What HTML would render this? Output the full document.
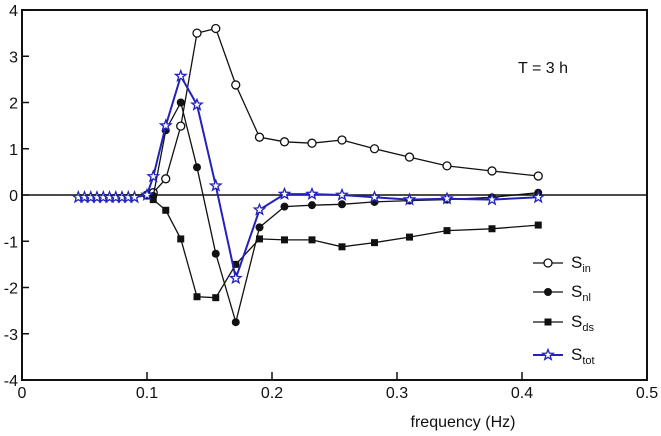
<!DOCTYPE html>
<html><head><meta charset="utf-8"><style>
html,body{margin:0;padding:0;background:#fff;}
svg{display:block;font-family:"Liberation Sans",Arial,sans-serif;}
</style></head><body>
<svg id="chart" width="661" height="436" viewBox="0 0 661 436"></svg>
<script>
const freqs=[0.045,0.05,0.055,0.06,0.065,0.07,0.075,0.08,0.085,0.09,0.1,0.105,0.115,0.127,0.14,0.155,0.171,0.19,0.21,0.232,0.256,0.282,0.31,0.34,0.376,0.413];
const sIn=[0,0,0,0,0,0,0,0,0,0,0,0.05,0.35,1.49,3.5,3.6,2.38,1.25,1.15,1.12,1.19,1.0,0.82,0.63,0.52,0.41];
const sNl=[0,0,0,0,0,0,0,0,0,0,0,-0.02,1.4,2.0,0.6,-1.27,-2.75,-0.7,-0.25,-0.22,-0.2,-0.15,-0.12,-0.1,-0.05,0.05];
const sDs=[0,0,0,0,0,0,0,0,0,0,0,-0.1,-0.33,-0.95,-2.2,-2.22,-1.5,-0.95,-0.97,-0.97,-1.12,-1.03,-0.91,-0.77,-0.73,-0.65];
const sTot=[-0.05,-0.05,-0.05,-0.05,-0.05,-0.05,-0.05,-0.05,-0.05,-0.05,0.0,0.4,1.5,2.57,1.95,0.2,-1.8,-0.32,0.02,0.02,0.0,-0.05,-0.1,-0.08,-0.1,-0.05];
const xTicks=[0,0.1,0.2,0.3,0.4,0.5];
const xTickLabels=["0","0.1","0.2","0.3","0.4","0.5"];
const yTicks=[4,3,2,1,0,-1,-2,-3,-4];
const yTickLabels=["4","3","2","1","0","-1","-2","-3","-4"];

const NS="http://www.w3.org/2000/svg";
const svg=document.getElementById('chart');
const X0=22,X1=647,Y0=380,Y1=10;
const xs=v=>X0+(v-0)/(0.5)*(X1-X0);
const ys=v=>Y0-(v+4)/8*(Y0-Y1);
function mk(tag,attrs,parent){const e=document.createElementNS(NS,tag);for(const k in attrs)e.setAttribute(k,attrs[k]);(parent||svg).appendChild(e);return e;}

const frame=mk('rect',{x:X0,y:Y1,width:X1-X0,height:Y0-Y1,fill:'none',stroke:'#111','stroke-width':2});


const zl=mk('line',{x1:X0,x2:X1,y1:ys(0),y2:ys(0),stroke:'#111','stroke-width':1.6});



xTicks.forEach((t,i)=>{
  const x=xs(t);
  const tk=mk('line',{x1:x,x2:x,y1:Y0,y2:Y0-8,stroke:'#111','stroke-width':1.5});
  
  
  const tx=mk('text',{x:x,y:Y0+18,'font-size':16,'text-anchor':'middle',fill:'#111'});
  tx.textContent=xTickLabels[i];
  
  
});
yTicks.forEach((t,i)=>{
  const y=ys(t);
  const tk=mk('line',{x1:X0,x2:X0+7,y1:y,y2:y,stroke:'#111','stroke-width':1.5});
  
  
  const tx=mk('text',{x:X0-4,y:y+6,'font-size':16,'text-anchor':'end',fill:'#111'});
  tx.textContent=yTickLabels[i];
  
  
});
const xt=mk('text',{x:463,y:427,'font-size':16,'text-anchor':'middle',fill:'#111'});
xt.textContent='frequency (Hz)';


const ann=mk('text',{x:543,y:73,'font-size':16,'text-anchor':'middle',fill:'#111'});
ann.textContent='T = 3 h';



function marker(kind,x,y,color,g){
  if(kind==='open') return mk('circle',{cx:x,cy:y,r:4,fill:'#fff',stroke:color,'stroke-width':1.3},g);
  if(kind==='dot') return mk('circle',{cx:x,cy:y,r:4,fill:color},g);
  if(kind==='sq') return mk('rect',{x:x-3.5,y:y-3.5,width:7,height:7,fill:color},g);
  let p=[];for(let k=0;k<10;k++){const r=k%2?2.3:5.5;const a=-Math.PI/2+k*Math.PI/5;p.push((x+r*Math.cos(a)).toFixed(1)+','+(y+r*Math.sin(a)).toFixed(1));}
  return mk('polygon',{points:p.join(' '),fill:'#fff',stroke:color,'stroke-width':1.3},g);
}
const series=[
 {name:'series-s-in',vals:sIn,kind:'open',color:'#111',start:10},
 {name:'series-s-nl',vals:sNl,kind:'dot',color:'#111',start:10},
 {name:'series-s-ds',vals:sDs,kind:'sq',color:'#111',start:10},
 {name:'series-s-tot',vals:sTot,kind:'star',color:'#2222bb',start:0}
];
series.forEach(s=>{
  const g=mk('g',{});
  
  
  const pts=freqs.map((f,i)=>xs(f).toFixed(1)+','+ys(s.vals[i]).toFixed(1));
  const pl=mk('polyline',{points:pts.join(' '),fill:'none',stroke:s.color,'stroke-width':s.kind==='star'?2:1.3},g);
  
  
  freqs.forEach((f,i)=>{
    if(i<s.start && s.kind!=='star') return;
    const m=marker(s.kind,xs(f),ys(s.vals[i]),s.color,g);
    
    
  });
});
const legend=[['open','#111','in',263],['dot','#111','nl',292],['sq','#111','ds',322],['star','#2222bb','tot',355]];
legend.forEach(l=>{
  const g=mk('g',{});
  
  
  mk('line',{x1:533,x2:563,y1:l[3],y2:l[3],stroke:l[1],'stroke-width':l[0]==='star'?2:1.3},g);
  marker(l[0],548,l[3],l[1],g);
  const t=mk('text',{x:571,y:l[3]+5,'font-size':17,fill:'#111'},g);
  t.innerHTML='S<tspan font-size="11" dy="4">'+l[2]+'</tspan>';
});
</script>
</body></html>
